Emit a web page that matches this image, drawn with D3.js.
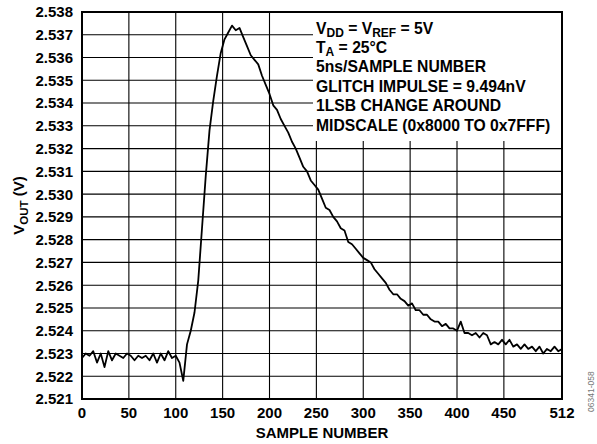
<!DOCTYPE html>
<html>
<head>
    <meta charset="utf-8" />
    <style>
    body { margin: 0; background: #fff; }
    svg text { font-family: "Liberation Sans", Arial, sans-serif; font-weight: bold; fill: #000; }
    .grid line { stroke: #000; stroke-width: 1.1px; }
    </style>
</head>
<body>
    <svg id="chart" width="597" height="444"></svg>
    <script src="https://d3js.org/d3.v7.min.js"></script>
    <script>
        // output voltage, one reading every 4 samples (0..512)
        var vout = [
            2.5228, 2.5230, 2.5229, 2.5231, 2.5226, 2.5230, 2.5224, 2.5231, 2.5227, 2.5230,
            2.5229, 2.5228, 2.5230, 2.5229, 2.5227, 2.5229, 2.5228, 2.5229, 2.5227, 2.5230,
            2.5226, 2.5230, 2.5227, 2.5231, 2.5228, 2.5229, 2.5226, 2.5218, 2.5234, 2.5240,
            2.5248, 2.5262, 2.5285, 2.5308, 2.5328, 2.5341, 2.5352, 2.5362, 2.5368, 2.5371,
            2.5374, 2.5372, 2.5373, 2.5369, 2.5365, 2.5361, 2.5359, 2.5357, 2.5352, 2.5348,
            2.5344, 2.5339, 2.5337, 2.5333, 2.5330, 2.5327, 2.5323, 2.5320, 2.5316, 2.5312,
            2.5310, 2.5306, 2.5304, 2.5302, 2.5298, 2.5294, 2.5293, 2.5290, 2.5288, 2.5285,
            2.5284, 2.5279, 2.5278, 2.5276, 2.5274, 2.5272, 2.5271, 2.5270, 2.5267, 2.5265,
            2.5263, 2.5261, 2.5258, 2.5256, 2.5256, 2.5254, 2.5253, 2.5251, 2.5252, 2.5249,
            2.5249, 2.5247, 2.5247, 2.5245, 2.5244, 2.5244, 2.5242, 2.5243, 2.5241, 2.5241,
            2.5240, 2.5244, 2.5239, 2.5239, 2.5238, 2.5239, 2.5237, 2.5239, 2.5238, 2.5234,
            2.5235, 2.5234, 2.5236, 2.5234, 2.5236, 2.5233, 2.5234, 2.5232, 2.5234, 2.5232,
            2.5233, 2.5231, 2.5233, 2.5230, 2.5232, 2.5231, 2.5233, 2.5231, 2.5232
        ];
        var sampleStep = 4;

        var xTicks = [0, 50, 100, 150, 200, 250, 300, 350, 400, 450, 512];
        var yTicks = [2.521, 2.522, 2.523, 2.524, 2.525, 2.526, 2.527, 2.528, 2.529,
                      2.530, 2.531, 2.532, 2.533, 2.534, 2.535, 2.536, 2.537, 2.538];
        var notes = [
            [["V", 0], ["DD", 1], [" = V", 0], ["REF", 1], [" = 5V", 0]],
            [["T", 0], ["A", 1], [" = 25°C", 0]],
            [["5ns/SAMPLE NUMBER", 0]],
            [["GLITCH IMPULSE = 9.494nV", 0]],
            [["1LSB CHANGE AROUND", 0]],
            [["MIDSCALE (0x8000 TO 0x7FFF)", 0]]
        ];

        var plotL = 82, plotR = 562, plotT = 12, plotB = 399;
        var svg = d3.select("#chart");

        var x = d3.scaleLinear().domain([0, 512]).range([plotL, plotR]);
        var y = d3.scaleLinear().domain([2.521, 2.538]).range([plotB, plotT]);

        // grid
        var grid = svg.append("g").attr("class", "grid");
        grid.selectAll("line.v")
            .data(xTicks.slice(1, -1))
            .enter().append("line")
            .attr("x1", d => x(d)).attr("x2", d => x(d))
            .attr("y1", plotT).attr("y2", plotB);
        grid.selectAll("line.h")
            .data(yTicks.slice(1, -1))
            .enter().append("line")
            .attr("x1", plotL).attr("x2", plotR)
            .attr("y1", d => y(d)).attr("y2", d => y(d));

        // annotation box covers the grid
        var noteBox = svg.append("g");
        noteBox.append("rect")
            .attr("x", 313).attr("y", plotT)
            .attr("width", plotR - 313).attr("height", 129)
            .attr("fill", "#fff");

        var line = d3.line()
            .x((d, i) => x(i * sampleStep))
            .y(d => y(d));
        svg.append("path")
            .datum(vout)
            .attr("d", line)
            .attr("fill", "none")
            .attr("stroke", "#000")
            .attr("stroke-width", 1.8)
            .attr("stroke-linejoin", "round");

        // frame
        svg.append("rect")
            .attr("x", plotL).attr("y", plotT)
            .attr("width", plotR - plotL).attr("height", plotB - plotT)
            .attr("fill", "none").attr("stroke", "#000").attr("stroke-width", 2);

        // tick labels
        svg.append("g").selectAll("text")
            .data(yTicks)
            .enter().append("text")
            .attr("x", 73).attr("y", d => y(d))
            .attr("dy", "0.36em")
            .attr("text-anchor", "end")
            .style("font-size", "15px")
            .text(d => d3.format(".3f")(d));

        svg.append("g").selectAll("text")
            .data(xTicks)
            .enter().append("text")
            .attr("x", d => x(d)).attr("y", 418)
            .attr("text-anchor", "middle")
            .style("font-size", "15px")
            .text(d => d);

        // axis titles
        svg.append("text")
            .attr("x", (plotL + plotR) / 2).attr("y", 438)
            .attr("text-anchor", "middle")
            .style("font-size", "15px")
            .text("SAMPLE NUMBER");

        var yt = svg.append("text")
            .attr("transform", "translate(24," + ((plotT + plotB) / 2) + ") rotate(-90)")
            .attr("text-anchor", "middle")
            .style("font-size", "15px");
        yt.append("tspan").text("V");
        yt.append("tspan").text("OUT").style("font-size", "11.5px").attr("dy", 4);
        yt.append("tspan").text(" (V)").attr("dy", -4);

        // annotation lines
        notes.forEach(function(parts, k) {
            var t = noteBox.append("text")
                .attr("x", 316).attr("y", 33.5 + k * 19.4)
                .style("font-size", "15.7px");
            var shifted = 0;
            parts.forEach(function(p) {
                var s = t.append("tspan").text(p[0]);
                if (p[1]) { s.style("font-size", "12px").attr("dy", 3.5 - shifted); shifted = 3.5; }
                else if (shifted) { s.attr("dy", -shifted); shifted = 0; }
            });
        });

        // figure id
        svg.append("text")
            .attr("transform", "translate(594,412) rotate(-90)")
            .attr("text-anchor", "start")
            .style("font-size", "8.5px")
            .style("font-weight", "normal")
            .style("fill", "#777")
            .text("06341-058");
    </script>
</body>
</html>
